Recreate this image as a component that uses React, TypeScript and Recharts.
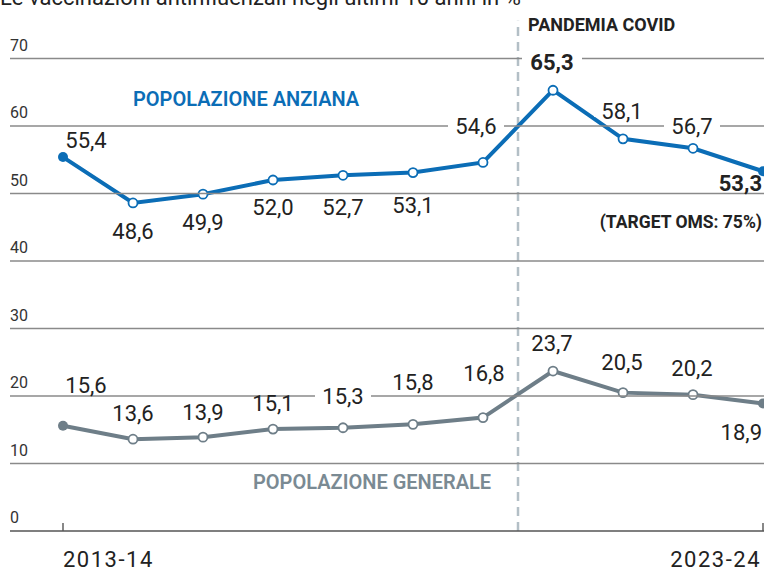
import { LineChart, Line, XAxis, YAxis, ReferenceLine, LabelList } from "recharts";

const seasons = [
  "2013-14", "2014-15", "2015-16", "2016-17", "2017-18", "2018-19",
  "2019-20", "2020-21", "2021-22", "2022-23", "2023-24",
];
const anziana = [55.4, 48.6, 49.9, 52.0, 52.7, 53.1, 54.6, 65.3, 58.1, 56.7, 53.3];
const generale = [15.6, 13.6, 13.9, 15.1, 15.3, 15.8, 16.8, 23.7, 20.5, 20.2, 18.9];
const yTicks = [0, 10, 20, 30, 40, 50, 60, 70];

const data = seasons.map((s, i) => ({ i, season: s, anziana: anziana[i], generale: generale[i] }));

// label placement around each point: [dx, dy, anchor]
const anzPlace: [number, number, string][] = [
  [23, -17, "middle"], [0, 28, "middle"], [0, 28, "middle"], [0, 27, "middle"],
  [0, 32, "middle"], [0, 32, "middle"], [-7, -36, "middle"], [-1, -28, "middle"],
  [-1, -28, "middle"], [-1, -22, "middle"], [-1, 12, "end"],
];
const genPlace: [number, number, string][] = [
  [23, -41, "middle"], [0, -26, "middle"], [0, -25, "middle"], [0, -26, "middle"],
  [0, -32, "middle"], [0, -42, "middle"], [1, -45, "middle"], [-1, -28, "middle"],
  [-1, -31, "middle"], [-1, -27, "middle"], [-1, 29, "end"],
];

const BLUE = "#0b6db6";
const GRAY = "#6e7e88";
const FONT = "Roboto, 'Liberation Sans', sans-serif";

const fmt = (v: number) => v.toFixed(1).replace(".", ",");

const makeLabel = (place: [number, number, string][], boldIdx: number[]) => (props: any) => {
  const { x, y, value, index } = props;
  const [dx, dy, anchor] = place[index];
  const bold = boldIdx.includes(index);
  const w = bold ? 50 : 46;
  const cx = x + dx;
  const cy = y + dy;
  const left = anchor === "end" ? cx - w : cx - w / 2;
  return (
    <g key={index}>
      <rect x={left - 5} y={cy - 6} width={w + 10 + (anchor === "end" ? 10 : 0)} height={12} fill="#fff" />
      <text
        x={cx}
        y={cy + 8}
        textAnchor={anchor as any}
        fontSize={22}
        fontWeight={bold ? 700 : 400}
        fill="#222"
        fontFamily={FONT}
      >
        {fmt(value)}
      </text>
    </g>
  );
};

const makeDot = (color: string) => (props: any) => {
  const { cx, cy, index } = props;
  const end = index === 0 || index === seasons.length - 1;
  return (
    <circle
      key={index}
      cx={cx}
      cy={cy}
      r={end ? 5 : 4.5}
      fill={end ? color : "#fff"}
      stroke={color}
      strokeWidth={end ? 0 : 1.8}
    />
  );
};

const YTick = (props: any) => {
  const { y, payload } = props;
  return (
    <g>
      <line x1={10} x2={764} y1={y} y2={y} stroke={payload.value === 0 ? "#555" : "#8a8a8a"} strokeWidth={1.4} />
      <text x={10} y={y - 8} fontSize={16} fill="#333" fontFamily={FONT}>
        {payload.value}
      </text>
    </g>
  );
};

const XTick = (props: any) => {
  const { x, payload } = props;
  const first = payload.value === 0;
  return (
    <g>
      <line x1={x} x2={x} y1={523} y2={531} stroke="#555" strokeWidth={1.4} />
      <text
        x={first ? x : x - 2}
        y={567}
        textAnchor={first ? "start" : "end"}
        fontSize={22}
        letterSpacing={1.5}
        fill="#222"
        fontFamily={FONT}
      >
        {seasons[payload.value]}
      </text>
    </g>
  );
};

export default function App() {
  return (
    <div style={{ position: "absolute", left: 0, top: 0, width: 764, height: 579, background: "#fff", overflow: "hidden" }}>
      <LineChart width={764} height={579} data={data} margin={{ top: 58.5, right: 1, bottom: 47, left: 62 }}>
        <XAxis
          dataKey="i"
          type="number"
          domain={[0, 10]}
          ticks={[0, 10]}
          height={1}
          axisLine={false}
          tickLine={false}
          tick={(p: any) => <XTick {...p} />}
          interval={0}
        />
        <YAxis
          type="number"
          domain={[0, 70]}
          ticks={yTicks}
          width={1}
          axisLine={false}
          tickLine={false}
          tick={(p: any) => <YTick {...p} />}
          interval={0}
          allowDataOverflow
        />
        <ReferenceLine
          segment={[{ x: 6.5, y: 0 }, { x: 6.5, y: 75.6 }]}
          ifOverflow="visible"
          stroke="#b3bfc6"
          strokeWidth={2.5}
          strokeDasharray="9 6"
        />
        <Line dataKey="anziana" stroke="none" dot={false} activeDot={false} isAnimationActive={false}>
          <LabelList dataKey="anziana" content={makeLabel(anzPlace, [7, 10])} />
        </Line>
        <Line dataKey="generale" stroke="none" dot={false} activeDot={false} isAnimationActive={false}>
          <LabelList dataKey="generale" content={makeLabel(genPlace, [])} />
        </Line>
        <Line
          dataKey="anziana"
          type="linear"
          stroke={BLUE}
          strokeWidth={4}
          dot={makeDot(BLUE)}
          activeDot={false}
          isAnimationActive={false}
        />
        <Line
          dataKey="generale"
          type="linear"
          stroke={GRAY}
          strokeWidth={4}
          dot={makeDot(GRAY)}
          activeDot={false}
          isAnimationActive={false}
        />
      </LineChart>
      <svg width={764} height={579} style={{ position: "absolute", left: 0, top: 0, pointerEvents: "none" }}>
        <text x={0} y={5} fontSize={22} fill="#222" fontFamily={FONT}>
          Le vaccinazioni antinfluenzali negli ultimi 10 anni in %
        </text>
        <text x={528} y={31} fontSize={18} fontWeight={700} fill="#222" fontFamily={FONT}>
          PANDEMIA COVID
        </text>
        <text x={133} y={106} fontSize={20} fontWeight={600} fill={BLUE} fontFamily={FONT}>
          POPOLAZIONE ANZIANA
        </text>
        <text x={253} y={489} fontSize={20} fontWeight={600} fill="#7a8a93" fontFamily={FONT}>
          POPOLAZIONE GENERALE
        </text>
        <text x={762} y={228} textAnchor="end" fontSize={17.5} fontWeight={700} fill="#222" fontFamily={FONT}>
          (TARGET OMS: 75%)
        </text>
      </svg>
    </div>
  );
}
